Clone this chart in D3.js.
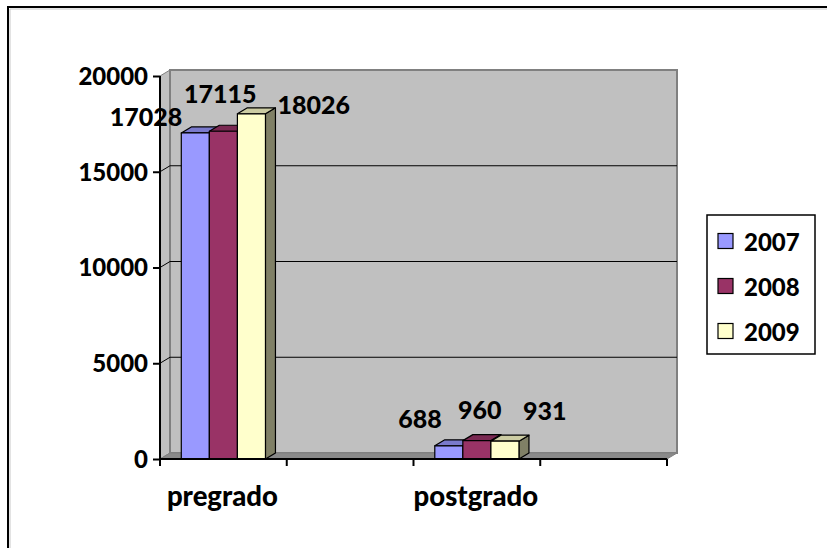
<!DOCTYPE html>
<html>
<head>
<meta charset="utf-8">
<script src="https://cdn.jsdelivr.net/npm/d3@7"></script>
<style>
  html, body { margin: 0; padding: 0; background: #fff; }
  svg { display: block; }
  text { font-family: Lato, "Open Sans", sans-serif; font-weight: 900; fill: #000; }
</style>
</head>
<body>
<svg id="chart" width="827" height="548"></svg>
<script>
// Enrolment by level of study (blank slots keep Excel's spacing of the groups)
const categories = ["pregrado", " ", "postgrado", "  "];
const seriesNames = ["2007", "2008", "2009"];
const values2007 = [17028, null, 688, null];
const values2008 = [17115, null, 960, null];
const values2009 = [18026, null, 931, null];
const yTicks = [0, 5000, 10000, 15000, 20000];
const seriesColors = ["#9999FF", "#993366", "#FFFFCC"];

const seriesValues = [values2007, values2008, values2009];

// label nudges [dx, dy] relative to the default spot above each column
const labelNudge = [
  [[-18, 3], [-8, -18], [21, 10]],
  [[-12, -8], [-2, -12], [13, -11]]
];

const svg = d3.select("#chart");

// front plane of the 3-D box and its depth offset
const plotL = 160, plotR = 667, plotB = 459, plotT = 76;
const dx = 10, dy = -6;

const y = d3.scaleLinear().domain([0, 20000]).range([plotB, plotT]);
const x = d3.scaleBand().domain(categories).range([plotL, plotR]);
const groupW = x.bandwidth() * 0.664;
const x1 = d3.scaleBand().domain(seriesNames)
  .range([(x.bandwidth() - groupW) / 2, (x.bandwidth() + groupW) / 2]);

function shade(c, k) {
  const col = d3.rgb(c);
  return d3.rgb(col.r * k, col.g * k, col.b * k).formatHex();
}
const poly = pts => "M" + pts.map(p => p.join(",")).join("L") + "Z";

// outer chart frame
svg.append("path")
  .attr("d", "M8,548 L8,7 L827,7")
  .attr("fill", "none").attr("stroke", "#000").attr("stroke-width", 2);
svg.append("path")
  .attr("d", "M10,548 L10,9 L827,9")
  .attr("fill", "none").attr("stroke", "#c8c8c8").attr("stroke-width", 1);

// left side wall
svg.append("path")
  .attr("d", poly([[plotL, y(0)], [plotL, y(20000)], [plotL + dx, y(20000) + dy], [plotL + dx, y(0) + dy]]))
  .attr("fill", "#c0c0c0").attr("stroke", "#808080").attr("stroke-width", 1);

// back wall
svg.append("path")
  .attr("d", poly([[plotL + dx, y(0) + dy], [plotL + dx, y(20000) + dy], [plotR + dx, y(20000) + dy], [plotR + dx, y(0) + dy]]))
  .attr("fill", "#c0c0c0").attr("stroke", "#808080").attr("stroke-width", 2);

// floor
svg.append("path")
  .attr("d", poly([[plotL, y(0)], [plotL + dx, y(0) + dy], [plotR + dx, y(0) + dy], [plotR, y(0)]]))
  .attr("fill", "#8a8a8a").attr("stroke", "#808080").attr("stroke-width", 1);

// gridlines on the side and back walls
const grid = svg.append("g").attr("stroke", "#000").attr("stroke-width", 1).attr("fill", "none");
yTicks.filter(v => v > 0 && v < 20000).forEach(v => {
  grid.append("path").attr("d",
    `M${plotL},${y(v)} L${plotL + dx},${y(v) + dy} L${plotR + dx},${y(v) + dy}`);
});

// columns, drawn left to right so each front face covers its neighbour's side
const bars = svg.append("g");
categories.forEach((cat, ci) => {
  seriesNames.forEach((s, si) => {
    const v = seriesValues[si][ci];
    if (v == null) return;
    const x0 = x(cat) + x1(s), w = x1.bandwidth();
    const yt = y(v), yb = y(0);
    const g = bars.append("g").attr("stroke", "#000").attr("stroke-width", 1.2).attr("stroke-linejoin", "round");
    g.append("path").attr("d", poly([[x0 + w, yb], [x0 + w, yt], [x0 + w + dx, yt + dy], [x0 + w + dx, yb + dy]]))
      .attr("fill", shade(seriesColors[si], 0.5));
    g.append("path").attr("d", poly([[x0, yt], [x0 + dx, yt + dy], [x0 + w + dx, yt + dy], [x0 + w, yt]]))
      .attr("fill", shade(seriesColors[si], 0.8));
    g.append("rect").attr("x", x0).attr("y", yt).attr("width", w).attr("height", yb - yt)
      .attr("fill", seriesColors[si]);
  });
});

// value labels
const labels = svg.append("g").attr("font-size", 25);
let groupIndex = 0;
categories.forEach((cat, ci) => {
  if (seriesValues[0][ci] == null) return;
  seriesNames.forEach((s, si) => {
    const v = seriesValues[si][ci];
    const nd = labelNudge[groupIndex][si];
    const cx = x(cat) + x1(s) + x1.bandwidth() / 2 + dx / 2;
    labels.append("text")
      .attr("x", cx + nd[0])
      .attr("y", y(v) - 20 + nd[1])
      .attr("text-anchor", si === 0 ? "end" : si === 2 ? "start" : "middle")
      .attr("dominant-baseline", "central")
      .text(d3.format("d")(v));
  });
  groupIndex++;
});

// value axis
const yAxis = svg.append("g").attr("transform", `translate(${plotL},0)`)
  .call(d3.axisLeft(y).tickValues(yTicks).tickSize(7).tickPadding(5).tickFormat(d3.format("d")));
yAxis.select(".domain").attr("stroke", "#000").attr("stroke-width", 2).attr("d", `M0,${y(0)}V${y(20000)}`);
yAxis.selectAll(".tick line").attr("stroke", "#000").attr("stroke-width", 2);
yAxis.selectAll(".tick text").attr("font-size", 24).attr("font-family", null).attr("dy", "0.35em");

// category axis
const xAxis = svg.append("g").attr("transform", `translate(0,${plotB})`);
xAxis.append("line").attr("x1", plotL).attr("x2", plotR).attr("stroke", "#000").attr("stroke-width", 2);
const edges = categories.map(c => x(c)).concat([plotR]);
xAxis.selectAll("line.tk").data(edges).join("line").attr("class", "tk")
  .attr("x1", d => d).attr("x2", d => d).attr("y1", 0).attr("y2", 7)
  .attr("stroke", "#000").attr("stroke-width", 2);
xAxis.selectAll("text").data(categories).join("text")
  .attr("x", d => x(d) + x.bandwidth() / 2 - 1)
  .attr("y", 36)
  .attr("text-anchor", "middle")
  .attr("dominant-baseline", "central")
  .attr("font-size", 27.5)
  .text(d => d.trim());

// legend
const legend = svg.append("g").attr("transform", "translate(707,215)");
legend.append("rect").attr("width", 108).attr("height", 139)
  .attr("fill", "#fff").attr("stroke", "#000").attr("stroke-width", 1.5);
seriesNames.forEach((s, i) => {
  const cy = 26 + i * 45;
  legend.append("rect").attr("x", 11).attr("y", cy - 7.5).attr("width", 15).attr("height", 15)
    .attr("fill", seriesColors[i]).attr("stroke", "#000").attr("stroke-width", 1.2);
  legend.append("text").attr("x", 37).attr("y", cy).attr("dominant-baseline", "central")
    .attr("font-size", 24).text(s);
});
</script>
</body>
</html>
